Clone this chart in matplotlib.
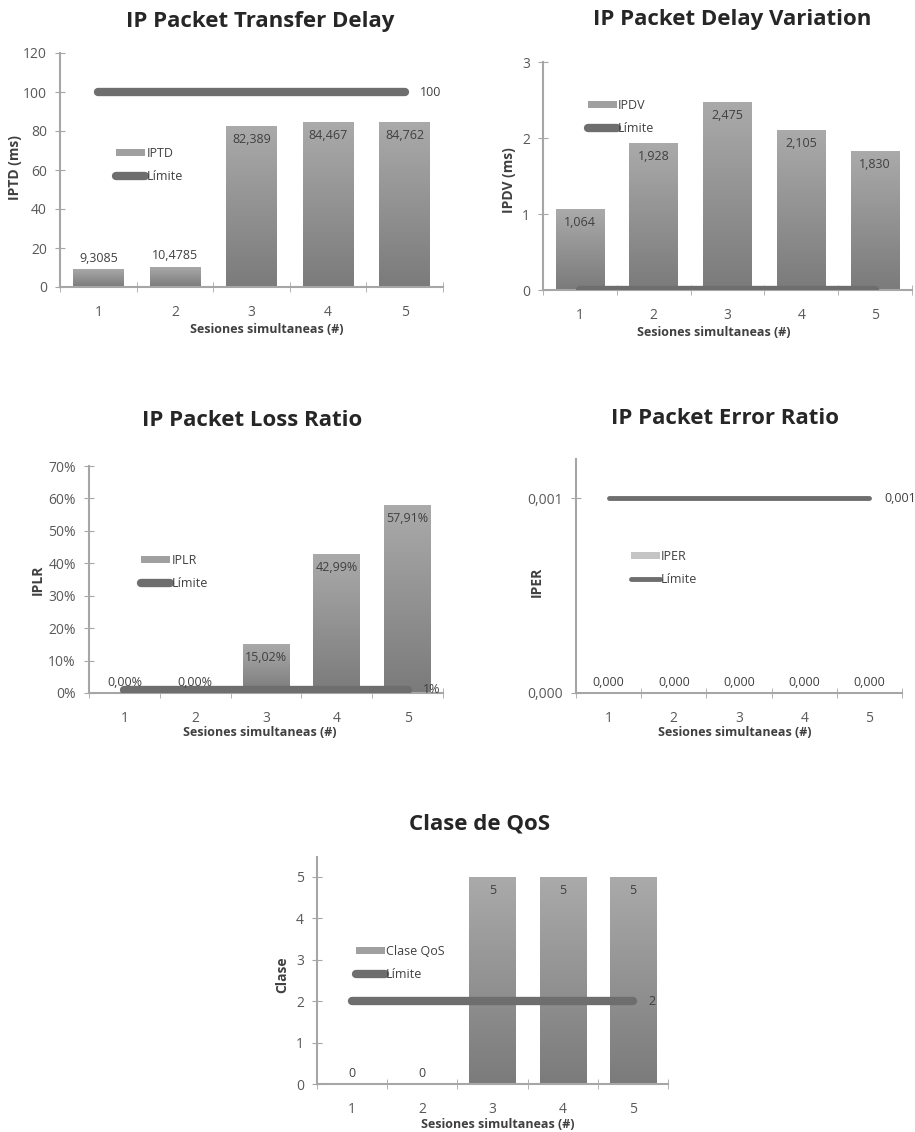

# QoS results: five small bar charts with a limit line each
import numpy as np
import matplotlib
matplotlib.use("Agg")
import matplotlib.pyplot as plt
from matplotlib.patches import Patch
from matplotlib.lines import Line2D
from matplotlib.colors import LinearSegmentedColormap

plt.rcParams['font.family'] = ['Open Sans', 'DejaVu Sans']

sesiones = [1, 2, 3, 4, 5]
xlabel = 'Sesiones simultaneas (#)'

iptd = [9.3085, 10.4785, 82.389, 84.467, 84.762]
iptd_limite = 100
ipdv = [1.064, 1.928, 2.475, 2.105, 1.830]
ipdv_limite = 0
iplr = [0.00, 0.00, 15.02, 42.99, 57.91]   # %
iplr_limite = 1
iper = [0.000, 0.000, 0.000, 0.000, 0.000]
iper_limite = 0.001
clase_qos = [0, 0, 5, 5, 5]
clase_limite = 2

AXIS_COL = '#a6a6a6'
TEXT_COL = '#595959'
LINE_COL = '#6e6e6e'
grad = LinearSegmentedColormap.from_list('bar', ['#7b7b7b', '#aaaaaa'])

fig = plt.figure(figsize=(9.15, 11.32), dpi=100)
W, H = 915.0, 1132.0


def px_axes(left, right, top, bottom):
    return fig.add_axes([left / W, 1 - bottom / H, (right - left) / W, (bottom - top) / H])


def fig_text(x, y, s, **kw):
    fig.text(x / W, 1 - y / H, s, **kw)


def panel(ax, vals, limite, ylim, yticks, ytl, fmt, series, legend_xy,
          lim_label=None, lw=6, leg_color='#a0a0a0'):
    x = np.array(sesiones, dtype=float)
    w = 0.66
    for xi, v in zip(x, vals):
        if v > 0:
            bar = ax.bar(xi, v, w, color='#999999', zorder=2, linewidth=0)[0]
            img = np.linspace(0, 1, 100).reshape(-1, 1)
            im = ax.imshow(img, extent=[xi - w / 2, xi + w / 2, 0, v], origin='lower',
                           cmap=grad, aspect='auto', zorder=2.1)
            im.set_clip_path(bar)
        # value labels: inside the top of tall bars, above short ones
        if v / ylim[1] > 0.15:
            ax.annotate(fmt(v), (xi, v), xytext=(0, -5), textcoords='offset points',
                        ha='center', va='top', fontsize=9, color='#404040', zorder=5)
        else:
            ax.annotate(fmt(v), (xi, v), xytext=(0, 3), textcoords='offset points',
                        ha='center', va='bottom', fontsize=9, color='#404040', zorder=5)
    ax.plot(x, [limite] * len(x), color=LINE_COL, lw=lw, solid_capstyle='round', zorder=4)
    if lim_label is not None:
        ax.annotate(lim_label, (x[-1], limite), xytext=(11, 0), textcoords='offset points',
                    ha='left', va='center', fontsize=9, color='#404040')
    ax.set_xlim(0.5, 5.5)
    ax.set_ylim(*ylim)
    ax.set_yticks(yticks)
    ax.set_yticklabels(ytl)
    ax.set_xticks(sesiones)
    ax.set_xticks(np.arange(0.5, 6.0, 1.0), minor=True)
    ax.tick_params(axis='x', which='major', length=0, pad=13, labelsize=10, labelcolor=TEXT_COL)
    ax.tick_params(axis='x', which='minor', direction='inout', length=7, color=AXIS_COL)
    ax.tick_params(axis='y', direction='inout', length=7, color=AXIS_COL, pad=6,
                   labelsize=10, labelcolor=TEXT_COL)
    for s in ['top', 'right']:
        ax.spines[s].set_visible(False)
    for s in ['left', 'bottom']:
        ax.spines[s].set_color(AXIS_COL)
        ax.spines[s].set_linewidth(1.5)
    ax.patch.set_alpha(0)
    handles = [Patch(facecolor=leg_color, edgecolor='none', label=series),
               Line2D([0], [0], color=LINE_COL, lw=lw, solid_capstyle='round', label='Límite')]
    ax.legend(handles=handles, loc='upper left', bbox_to_anchor=legend_xy, frameon=False,
              borderpad=0, handlelength=2.3, handleheight=0.5, handletextpad=0.1,
              labelspacing=0.75, fontsize=9, labelcolor='#404040')


def comma(fmtstr):
    return lambda v: fmtstr.format(v).replace('.', ',')


TITLE = dict(ha='center', va='center', fontsize=16, fontweight='bold', color='#262626')
XLAB = dict(ha='center', va='center', fontsize=9, fontweight='bold', color='#404040')
YLAB = dict(ha='center', va='center', rotation=90, fontsize=10, fontweight='bold', color='#404040')

# 1 - IPTD
ax1 = px_axes(60, 443, 53, 287)
panel(ax1, iptd, iptd_limite, (0, 120), range(0, 121, 20), [str(t) for t in range(0, 121, 20)],
      lambda v: str(v).replace('.', ','), 'IPTD', (0.131, 0.624), lim_label='100')
fig_text(260, 22, 'IP Packet Transfer Delay', **TITLE)
fig_text(267, 329, xlabel, **XLAB)
fig_text(15, 168, 'IPTD (ms)', **YLAB)

# 2 - IPDV
ax2 = px_axes(543, 912, 62, 290)
panel(ax2, ipdv, ipdv_limite, (0, 3), [0, 1, 2, 3], ['0', '1', '2', '3'],
      comma('{:.3f}'), 'IPDV', (0.105, 0.864))
fig_text(732, 20, 'IP Packet Delay Variation', **TITLE)
fig_text(714, 332, xlabel, **XLAB)
fig_text(509, 180, 'IPDV (ms)', **YLAB)

# 3 - IPLR
ax3 = px_axes(89, 443, 466, 693)
panel(ax3, iplr, iplr_limite, (0, 70), range(0, 71, 10), ['%d%%' % t for t in range(0, 71, 10)],
      comma('{:.2f}%'), 'IPLR', (0.13, 0.639), lim_label='1%')
fig_text(252, 420, 'IP Packet Loss Ratio', **TITLE)
fig_text(260, 733, xlabel, **XLAB)
fig_text(38, 580, 'IPLR', **YLAB)

# 4 - IPER
ax4 = px_axes(576, 902, 459, 693)
panel(ax4, iper, iper_limite, (0, 0.0012), [0, 0.001], ['0,000', '0,001'],
      comma('{:.3f}'), 'IPER', (0.15, 0.637), lim_label='0,001', lw=3.5, leg_color='#c4c4c4')
fig_text(725, 418, 'IP Packet Error Ratio', **TITLE)
fig_text(735, 733, xlabel, **XLAB)
fig_text(537, 582, 'IPER', **YLAB)

# 5 - Clase de QoS
ax5 = px_axes(317, 668, 857, 1084)
panel(ax5, clase_qos, clase_limite, (0, 5.48), range(0, 6), [str(t) for t in range(0, 6)],
      lambda v: '%d' % v, 'Clase QoS', (0.094, 0.639), lim_label='2')
fig_text(480, 824, 'Clase de QoS', **TITLE)
fig_text(498, 1124, xlabel, **XLAB)
fig_text(282, 975, 'Clase', **YLAB)

fig.savefig('out.png', dpi=100)
